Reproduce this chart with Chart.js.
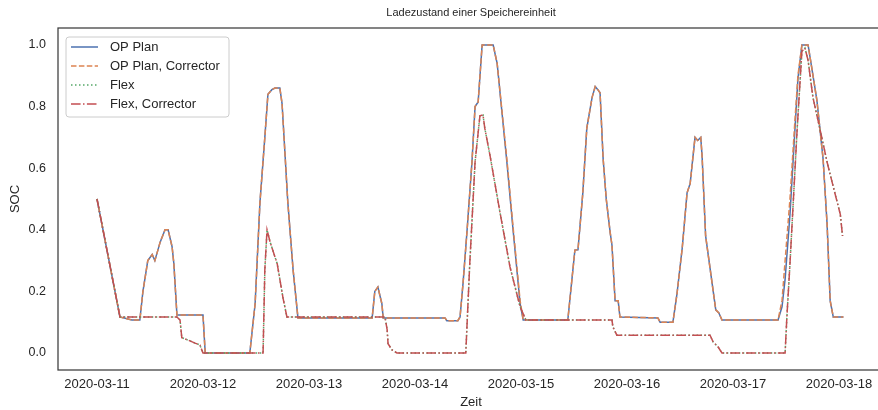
<!DOCTYPE html>
<html>
<head>
<meta charset="utf-8">
<title>Ladezustand einer Speichereinheit</title>
<script src="https://cdn.jsdelivr.net/npm/chart.js@4.4.1/dist/chart.umd.min.js"></script>
<style>
  html, body { margin: 0; padding: 0; background: #fff; overflow: hidden; }
  canvas { display: block; }
</style>
</head>
<body>
<canvas id="soc-chart" width="910" height="410"></canvas>
<script>
// --- Ladezustand einer Speichereinheit (SOC over one week) ---

// x values are hours after 2020-03-11 00:00
const dayLabels = ['2020-03-11', '2020-03-12', '2020-03-13', '2020-03-14',
                   '2020-03-15', '2020-03-16', '2020-03-17', '2020-03-18'];
const seriesLabels = ['OP Plan', 'OP Plan, Corrector', 'Flex', 'Flex, Corrector'];

// OP Plan (and its corrector run, which follows it almost exactly)
const opHours = [0, 5.2, 7.9, 9.7, 10.4, 11.5, 12.5, 13.1, 14.3, 15.4, 16.1, 17.0, 17.4, 18.1,
  24.0, 24.5, 34.6, 35.8, 36.9, 38.0, 38.7, 39.6, 40.3, 41.4, 41.9, 43.2, 44.4, 45.5,
  62.3, 62.9, 63.6, 64.5, 64.8, 78.8, 79.2, 81.7, 82.2, 82.9, 83.8, 84.9, 85.6, 86.3,
  87.2, 89.7, 90.6, 92.8, 94.2, 95.8, 96.5, 106.6, 108.2, 108.9, 110.0, 110.9, 112.1,
  112.8, 113.4, 113.9, 114.6, 115.3, 116.2, 116.6, 117.3, 118.0, 118.4, 127.0, 127.5,
  130.4, 131.3, 132.5, 133.6, 134.3, 135.4, 136.0, 136.7, 137.0, 137.8, 140.1, 140.8,
  141.5, 154.2, 155.1, 155.8, 156.9, 158.0, 158.7, 159.6, 161.0, 161.9, 163.0, 164.4,
  165.3, 166.0, 166.7, 169.0];
const opSoc = [0.50, 0.117, 0.107, 0.107, 0.20, 0.30, 0.32, 0.30, 0.36, 0.40, 0.40, 0.345, 0.29, 0.123,
  0.123, 0.0, 0.0, 0.16, 0.49, 0.70, 0.84, 0.855, 0.86, 0.86, 0.81, 0.49, 0.27, 0.114,
  0.114, 0.20, 0.214, 0.16, 0.114, 0.114, 0.105, 0.105, 0.117, 0.23, 0.40, 0.62, 0.80, 0.815,
  1.0, 1.0, 0.94, 0.62, 0.40, 0.16, 0.107, 0.107, 0.334, 0.335, 0.52, 0.73, 0.83,
  0.865, 0.855, 0.845, 0.63, 0.50, 0.39, 0.35, 0.17, 0.17, 0.117, 0.114, 0.10,
  0.10, 0.19, 0.34, 0.52, 0.55, 0.70, 0.69, 0.70, 0.64, 0.38, 0.14, 0.13,
  0.107, 0.107, 0.15, 0.24, 0.45, 0.72, 0.89, 1.0, 1.0, 0.92, 0.82, 0.63,
  0.42, 0.17, 0.117, 0.117];
const opCorrSoc = [0.50, 0.117, 0.107, 0.107, 0.20, 0.30, 0.32, 0.30, 0.36, 0.40, 0.40, 0.345, 0.29, 0.123,
  0.123, 0.0, 0.0, 0.16, 0.49, 0.70, 0.84, 0.855, 0.86, 0.86, 0.81, 0.49, 0.27, 0.114,
  0.114, 0.20, 0.214, 0.16, 0.114, 0.114, 0.105, 0.105, 0.117, 0.23, 0.40, 0.62, 0.80, 0.815,
  1.0, 1.0, 0.94, 0.63, 0.41, 0.17, 0.107, 0.107, 0.334, 0.335, 0.52, 0.73, 0.83,
  0.865, 0.855, 0.845, 0.63, 0.50, 0.39, 0.35, 0.17, 0.17, 0.117, 0.114, 0.10,
  0.10, 0.19, 0.34, 0.52, 0.55, 0.70, 0.69, 0.70, 0.64, 0.38, 0.14, 0.13,
  0.107, 0.107, 0.17, 0.30, 0.50, 0.75, 0.90, 1.0, 1.0, 0.92, 0.82, 0.63,
  0.42, 0.17, 0.117, 0.117];

// Flex (and its corrector run)
const flexHours = [0, 5.2, 18.1, 18.8, 19.2, 20.6, 22.2, 23.3, 24.0, 37.6, 38.0, 38.5, 39.2,
  40.8, 42.1, 43.0, 65.2, 65.7, 65.9, 66.8, 67.9, 83.5, 84.4, 85.6, 86.7, 87.4, 87.8,
  89.0, 91.2, 93.5, 95.8, 97.1, 116.6, 116.8, 117.7, 138.8, 139.5, 140.6, 141.5, 155.8,
  156.2, 156.9, 158.5, 159.6, 160.3, 161.0, 162.1, 164.1, 165.3, 166.7, 168.3, 168.8];
const flexSoc = [0.50, 0.117, 0.117, 0.107, 0.05, 0.042, 0.032, 0.026, 0.0, 0.0, 0.27, 0.40, 0.36,
  0.29, 0.18, 0.117, 0.117, 0.075, 0.03, 0.01, 0.0, 0.0, 0.29, 0.62, 0.77, 0.773, 0.73,
  0.64, 0.46, 0.28, 0.15, 0.107, 0.107, 0.085, 0.058, 0.058, 0.036, 0.02, 0.0, 0.0,
  0.117, 0.29, 0.72, 0.98, 0.99, 0.95, 0.83, 0.70, 0.62, 0.54, 0.45, 0.38];
const flexCorrSoc = [0.50, 0.117, 0.117, 0.107, 0.05, 0.042, 0.032, 0.026, 0.0, 0.0, 0.27, 0.40, 0.36,
  0.29, 0.18, 0.117, 0.117, 0.075, 0.03, 0.01, 0.0, 0.0, 0.29, 0.62, 0.77, 0.773, 0.73,
  0.64, 0.46, 0.28, 0.15, 0.107, 0.107, 0.085, 0.058, 0.058, 0.036, 0.02, 0.0, 0.0,
  0.117, 0.29, 0.72, 0.98, 0.99, 0.95, 0.83, 0.70, 0.62, 0.54, 0.45, 0.38];

const chartTitle = 'Ladezustand einer Speichereinheit';
const fontFamily = "'Liberation Sans', Arial, sans-serif";
const textColor = '#262626';

function toPoints(hours, soc) {
  return hours.map((h, i) => ({ x: h, y: soc[i] }));
}

// Frame, title and legend drawn inside the plot like matplotlib does
const frameAndLegend = {
  id: 'frameAndLegend',
  afterDatasetsDraw(chart) {
    const { ctx, chartArea: a } = chart;
    ctx.save();

    ctx.strokeStyle = '#3b3b3b';
    ctx.lineWidth = 1.25;
    ctx.setLineDash([]);
    ctx.strokeRect(a.left, a.top, a.right - a.left, a.bottom - a.top);

    ctx.fillStyle = textColor;
    ctx.font = '11px ' + fontFamily;
    ctx.textAlign = 'center';
    ctx.textBaseline = 'middle';
    ctx.fillText(chartTitle, (a.left + a.right) / 2, 13);

    // legend box
    const bx = a.left + 8, by = a.top + 9, bw = 163, bh = 80;
    ctx.beginPath();
    ctx.roundRect(bx, by, bw, bh, 3);
    ctx.fillStyle = 'rgba(255,255,255,0.8)';
    ctx.fill();
    ctx.strokeStyle = '#cccccc';
    ctx.lineWidth = 1;
    ctx.stroke();

    ctx.font = '13px ' + fontFamily;
    ctx.textAlign = 'left';
    chart.data.datasets.forEach((ds, i) => {
      const y = by + 10 + i * 19;
      ctx.beginPath();
      ctx.setLineDash(ds.borderDash || []);
      ctx.strokeStyle = ds.borderColor;
      ctx.lineWidth = ds.borderWidth;
      ctx.moveTo(bx + 5, y);
      ctx.lineTo(bx + 32, y);
      ctx.stroke();
      ctx.setLineDash([]);
      ctx.fillStyle = textColor;
      ctx.fillText(ds.label, bx + 44, y);
    });
    ctx.restore();
  }
};

function lineSet(label, data, color, dash, order) {
  return {
    label: label,
    data: data,
    borderColor: color,
    borderWidth: 1.5,
    borderDash: dash,
    pointRadius: 0,
    fill: false,
    tension: 0,
    order: order
  };
}

new Chart(document.getElementById('soc-chart'), {
  type: 'line',
  data: {
    datasets: [
      lineSet(seriesLabels[0], toPoints(opHours, opSoc), '#4c72b0', [], 3),
      lineSet(seriesLabels[1], toPoints(opHours, opCorrSoc), '#dd8452', [5.5, 2.4], 2),
      lineSet(seriesLabels[2], toPoints(flexHours, flexSoc), '#55a868', [1.5, 2.5], 1),
      lineSet(seriesLabels[3], toPoints(flexHours, flexCorrSoc), '#c44e52', [9.6, 2.4, 1.5, 2.4], 0)
    ]
  },
  options: {
    responsive: false,
    animation: false,
    events: [],
    layout: { padding: { left: 0, top: 28, right: 26, bottom: 0 } },
    plugins: {
      legend: { display: false },
      title: { display: false },
      tooltip: { enabled: false }
    },
    scales: {
      x: {
        type: 'linear',
        min: -8.83,
        max: 178.19,
        grid: { display: false, drawTicks: false },
        border: { display: false },
        ticks: {
          stepSize: 24,
          includeBounds: false,
          autoSkip: false,
          maxRotation: 0,
          padding: 7,
          color: textColor,
          font: { family: fontFamily, size: 13 },
          callback: v => dayLabels[Math.round(v / 24)] || ''
        },
        title: {
          display: true,
          text: 'Zeit',
          color: textColor,
          font: { family: fontFamily, size: 13 },
          padding: 0
        },
        afterFit: s => { s.height = 40; }
      },
      y: {
        min: -0.0552,
        max: 1.0552,
        grid: { display: false, drawTicks: false },
        border: { display: false },
        ticks: {
          stepSize: 0.2,
          includeBounds: false,
          padding: 12,
          color: textColor,
          font: { family: fontFamily, size: 12.5 },
          callback: v => v.toFixed(1)
        },
        title: {
          display: true,
          text: 'SOC',
          color: textColor,
          font: { family: fontFamily, size: 13 },
          padding: { top: 8, bottom: 0 }
        },
        afterFit: s => { s.width = 58; }
      }
    }
  },
  plugins: [frameAndLegend]
});
</script>
</body>
</html>
